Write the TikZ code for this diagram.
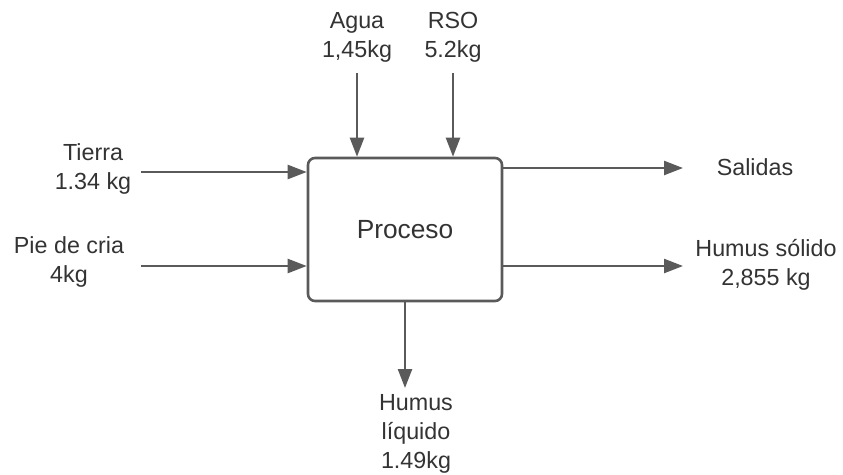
\documentclass[tikz,border=0pt]{standalone}
\usepackage{fontspec}
\setmainfont{Liberation Sans}
\usetikzlibrary{arrows.meta}
\definecolor{linegray}{HTML}{5A5A5A}
\definecolor{textgray}{HTML}{333333}
\tikzset{
  lbl/.style={align=center, inner sep=0pt, text=textgray, font=\fontsize{23.3}{29}\selectfont},
  procbox/.style={draw=linegray, line width=2.6pt, rounded corners=7pt, minimum width=194pt, minimum height=143pt, inner sep=0pt, text=textgray, font=\fontsize{26.3}{30}\selectfont},
  flow/.style={draw=linegray, line width=2.4pt, -{Triangle[length=19pt, width=14pt]}}
}
\begin{document}
\begin{tikzpicture}[x=1pt, y=-1pt]
\useasboundingbox (0,0) rectangle (843,474);
\node[procbox] (p) at (405,229.5) {Proceso};
% labels
\node[lbl] (agua) at (357,37) {Agua\\1,45kg};
\node[lbl] (rso) at (453,37) {RSO\\5.2kg};
\node[lbl] (tierra) at (93,169) {Tierra\\1.34 kg};
\node[lbl] (pie) at (69,262) {Pie de cria\\4kg};
\node[lbl] (sal) at (755,167) {Salidas};
\node[lbl] (hs) at (766,265) {Humus sólido\\2,855 kg};
\node[lbl] (hl) at (416,434) {Humus\\líquido\\1.49kg};
% connector ends
\coordinate (aS) at (357,73);
\coordinate (rS) at (453,73);
\coordinate (tS) at (141,172);
\coordinate (pS) at (141,266);
\coordinate (sE) at (683,168);
\coordinate (hE) at (683,266);
\coordinate (lE) at (405,388);
% connectors
\draw[flow] (aS) -- (aS |- p.north);
\draw[flow] (rS) -- (rS |- p.north);
\draw[flow] (tS) -- (tS -| p.west);
\draw[flow] (pS) -- (pS -| p.west);
\draw[flow] (sE -| p.east) -- (sE);
\draw[flow] (hE -| p.east) -- (hE);
\draw[flow] (p.south) -- (lE);
\end{tikzpicture}
\end{document}
